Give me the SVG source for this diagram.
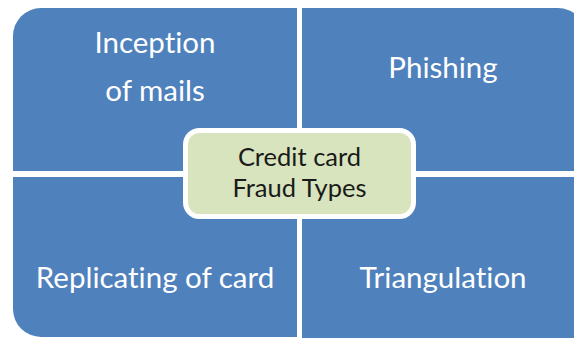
<svg xmlns="http://www.w3.org/2000/svg" width="574" height="338" viewBox="0 0 574 338">
<style>
.q{fill:#4F81BD;}
.t{font-family:Lato,"Noto Sans","Liberation Sans",sans-serif;font-size:29.5px;fill:#FFFFFF;text-anchor:middle;font-variant-ligatures:none;font-feature-settings:"liga" 0,"dlig" 0;}
.c{font-family:Lato,"Noto Sans","Liberation Sans",sans-serif;font-size:25.5px;fill:#1A1A1A;text-anchor:middle;font-variant-ligatures:none;font-feature-settings:"liga" 0,"dlig" 0;}
</style>
<rect width="574" height="338" fill="#FFFFFF"/>
<g id="inception">
<path class="q" d="M13,36 A28,28 0 0 1 41,8 H297 V171 H13 Z"/>
<text class="t" x="155" y="53">Inception</text>
<text class="t" x="155" y="101">of mails</text>
</g>
<g id="phishing">
<path class="q" d="M302,8 H558 A28,28 0 0 1 586,36 V171 H302 Z"/>
<text class="t" x="443" y="78">Phishing</text>
</g>
<g id="replicating">
<path class="q" d="M13,177 H297 V337 H41 A28,28 0 0 1 13,309 Z"/>
<text class="t" x="155" y="288">Replicating of card</text>
</g>
<g id="triangulation">
<path class="q" d="M302,177 H600 V340 H302 Z"/>
<text class="t" x="443" y="288">Triangulation</text>
</g>
<g id="connectors"></g>
<g id="center">
<rect x="185.5" y="130.5" width="228" height="86" rx="14" fill="#D7E4BD" stroke="#FFFFFF" stroke-width="5"/>
<text class="c" x="299.5" y="166">Credit card</text>
<text class="c" x="299.5" y="197">Fraud Types</text>
</g>
</svg>
